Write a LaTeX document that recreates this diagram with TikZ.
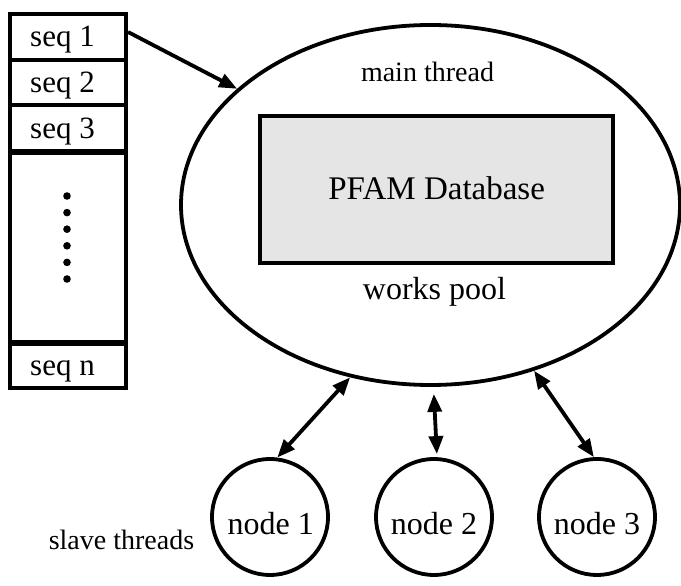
\documentclass[tikz,border=0pt]{standalone}
\usepackage{fontspec}
\usepackage{graphicx}
\setmainfont{Liberation Serif}
\usetikzlibrary{arrows.meta,shapes.geometric}
\newcommand{\txt}[3]{{\fontsize{#1}{#1}\selectfont\scalebox{#2}[1]{#3}}}
\begin{document}
\begin{tikzpicture}[x=1pt,y=1pt,
  cell/.style={draw,line width=4pt,minimum width=116pt,inner sep=0pt,anchor=center},
  lbl/.style={inner sep=0pt,anchor=base},
  worker/.style={draw,circle,line width=3.8pt,minimum size=116pt,inner sep=0pt},
  tip/.style={line width=3.8pt,{Triangle[length=18pt,width=14pt]}-{Triangle[length=18pt,width=14pt]}},
  onetip/.style={line width=3.8pt,-{Triangle[length=18pt,width=14pt]}}]
\useasboundingbox (0,0) rectangle (681,586);
% sequence column
\node[cell,minimum height=191pt] (dots) at (68,338.5) {};
\node[cell,minimum height=46pt] (seq1) at (68,549) {};
\node[cell,minimum height=45pt] (seq2) at (68,503.5) {};
\node[cell,minimum height=47pt] (seq3) at (68,457.5) {};
\node[cell,minimum height=45pt] (seqn) at (68,220.5) {};
\draw[line width=6.5pt] (10,434) -- (126,434);
\draw[line width=6.5pt] (10,243) -- (126,243);
\node[lbl] (t1) at (62.5,539) {\txt{31}{1}{seq 1}};
\node[lbl] (t2) at (62.5,493) {\txt{31}{1}{seq 2}};
\node[lbl] (t3) at (62.5,447) {\txt{31}{1}{seq 3}};
\node[lbl] (tn) at (62.5,210) {\txt{31}{1}{seq n}};
\foreach \i in {0,...,5} \fill (67,390-16.6*\i) circle (3.8pt);
% main thread
\node[draw,ellipse,line width=3.8pt,minimum width=499pt,minimum height=360pt,inner sep=0pt] (main) at (430.5,381) {};
\node[draw,line width=3.8pt,fill=black!10,minimum width=353pt,minimum height=147pt,inner sep=0pt] (db) at (436.5,396.5) {};
\node[lbl] (mt) at (427.5,504) {\txt{28}{1}{main thread}};
\node[lbl] (pf) at (436.7,386) {\txt{33}{1}{PFAM Database}};
\node[lbl] (wp) at (434.5,286) {\txt{32}{1}{works pool}};
% workers
\node[worker] (n1) at (270,69) {};
\node[worker] (n2) at (434,69) {};
\node[worker] (n3) at (597,69) {};
\node[lbl] (l1) at (270.8,51) {\txt{32}{1}{node 1}};
\node[lbl] (l2) at (434,51) {\txt{32}{1}{node 2}};
\node[lbl] (l3) at (597,51) {\txt{32}{1}{node 3}};
\node[lbl] (sl) at (121.5,36) {\txt{28}{1}{slave threads}};
% connectors
\draw[onetip] ([yshift=5pt]seq1.east) -- (main.149.5);
\draw[tip] (n1.83) -- (main.245.7);
\draw[tip,shorten <=3pt,shorten >=7pt] ([xshift=3pt]n2.north) -- ([xshift=3pt]main.south);
\draw[tip] (n3.93.6) -- (main.302.6);
\end{tikzpicture}
\end{document}
